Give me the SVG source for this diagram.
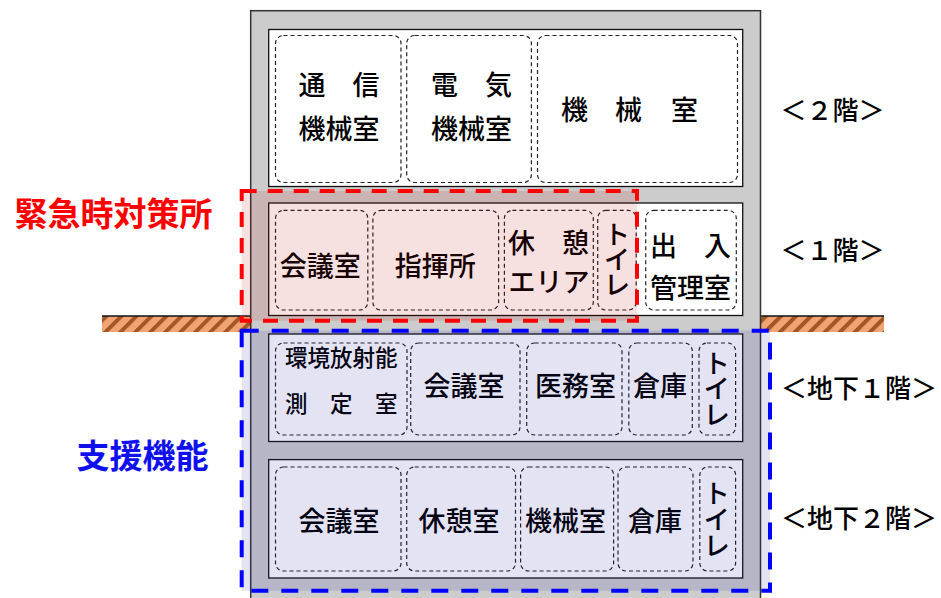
<svg xmlns="http://www.w3.org/2000/svg" width="941" height="598" viewBox="0 0 941 598">
<defs>
<pattern id="soil" patternUnits="userSpaceOnUse" width="10.6" height="10.6" patternTransform="rotate(45)">
<rect width="10.6" height="10.6" fill="#f0a474"/>
<rect width="4" height="10.6" fill="#9a4e1e" opacity="0.9"/>
</pattern>
<style>
.bld{fill:#cccccc;stroke:#333;stroke-width:1.5}
.floor{fill:#ffffff;stroke:#111;stroke-width:1.3}
.room{fill:none;stroke:#222;stroke-width:1.2;stroke-dasharray:4 3}
.t{font-family:"Noto Sans CJK JP","Noto Sans CJK SC",sans-serif;font-size:27px;font-weight:500;fill:#000;text-anchor:middle}
.s{font-size:22.5px}
.v{font-size:26px}
.lab{font-family:"Noto Sans CJK JP","Noto Sans CJK SC",sans-serif;font-size:26px;font-weight:500;fill:#000;text-anchor:middle}
.big{font-family:"Noto Sans CJK JP","Noto Sans CJK SC",sans-serif;font-size:33px;font-weight:bold;text-anchor:middle}
</style>
</defs>
<rect width="941" height="598" fill="#ffffff"/>
<g id="ground">
<rect x="102" y="316" width="149" height="16" fill="url(#soil)"/>
<rect x="761" y="316" width="123" height="16" fill="url(#soil)"/>
<line x1="102" y1="316" x2="251" y2="316" stroke="#111" stroke-width="1.6"/>
<line x1="761" y1="316" x2="884" y2="316" stroke="#111" stroke-width="1.6"/>
</g>
<g id="building">
<rect class="bld" x="250.7" y="10.7" width="509.8" height="600"/>
</g>
<g id="floor-2F">
<rect class="floor" x="268.7" y="29.5" width="474" height="157"/>
<g id="room-2F-tsushin">
<rect class="room" x="275.5" y="35.5" width="125.5" height="147" rx="8"/>
<text class="t" x="339" y="95">通　信</text>
<text class="t" x="339" y="139">機械室</text>
</g>
<g id="room-2F-denki">
<rect class="room" x="406.7" y="35.5" width="124.7" height="147" rx="8"/>
<text class="t" x="471.5" y="95">電　気</text>
<text class="t" x="471.5" y="139">機械室</text>
</g>
<g id="room-2F-kikai">
<rect class="room" x="537.5" y="35.5" width="200" height="147" rx="8"/>
<text class="t" x="574.6 628.6 684.6" y="120">機械室</text>
</g>
</g>
<g id="floor-1F">
<rect class="floor" x="268.7" y="203" width="474" height="112.5"/>
<g id="room-1F-kaigi">
<rect class="room" x="275.5" y="210.4" width="92.3" height="99.6" rx="8"/>
<text class="t" x="320.3" y="276">会議室</text>
</g>
<g id="room-1F-shiki">
<rect class="room" x="372.9" y="210.4" width="125.7" height="99.6" rx="8"/>
<text class="t" x="435.3" y="276">指揮所</text>
</g>
<g id="room-1F-kyukei">
<rect class="room" x="504.4" y="210.4" width="88.9" height="99.6" rx="8"/>
<text class="t" x="548.6" y="253">休　憩</text>
<text class="t" x="549" y="292">エリア</text>
</g>
<g id="room-1F-toilet">
<rect class="room" x="597.7" y="210.4" width="38.5" height="99.6" rx="8"/>
<text class="t v" x="617 617 617" y="244 269 294">トイレ</text>
</g>
<g id="room-1F-deiri">
<rect class="room" x="645.7" y="210.4" width="90.6" height="99.6" rx="8"/>
<text class="t" x="690.4" y="256">出　入</text>
<text class="t" x="690.4" y="298">管理室</text>
</g>
</g>
<g id="floor-B1">
<rect class="floor" x="268.7" y="334" width="474" height="107.5"/>
<g id="room-B1-sokutei">
<rect class="room" x="275.5" y="343" width="131.5" height="92" rx="8"/>
<text class="t s" x="341.3" y="365.5">環境放射能</text>
<text class="t s" x="341.3" y="411.5">測　定　室</text>
</g>
<g id="room-B1-kaigi">
<rect class="room" x="410.7" y="343" width="109.3" height="92" rx="8"/>
<text class="t" x="464" y="396">会議室</text>
</g>
<g id="room-B1-imu">
<rect class="room" x="526.7" y="343" width="95.3" height="92" rx="8"/>
<text class="t" x="575.5" y="396">医務室</text>
</g>
<g id="room-B1-souko">
<rect class="room" x="628.8" y="343" width="63.5" height="92" rx="8"/>
<text class="t" x="660" y="396">倉庫</text>
</g>
<g id="room-B1-toilet">
<rect class="room" x="699" y="343" width="36.6" height="92" rx="8"/>
<text class="t v" x="716.7 716.7 716.7" y="373 398 424">トイレ</text>
</g>
</g>
<g id="floor-B2">
<rect class="floor" x="268.7" y="459.6" width="474" height="118.4"/>
<g id="room-B2-kaigi">
<rect class="room" x="275.5" y="467" width="125.5" height="104" rx="8"/>
<text class="t" x="339" y="531">会議室</text>
</g>
<g id="room-B2-kyukei">
<rect class="room" x="406.7" y="467" width="108.8" height="104" rx="8"/>
<text class="t" x="459" y="531">休憩室</text>
</g>
<g id="room-B2-kikai">
<rect class="room" x="520.6" y="467" width="93" height="104" rx="8"/>
<text class="t" x="565.4" y="531">機械室</text>
</g>
<g id="room-B2-souko">
<rect class="room" x="618" y="467" width="75" height="104" rx="8"/>
<text class="t" x="655" y="531">倉庫</text>
</g>
<g id="room-B2-toilet">
<rect class="room" x="699.8" y="467" width="35.8" height="104" rx="8"/>
<text class="t v" x="716.7 716.7 716.7" y="503 528.6 555">トイレ</text>
</g>
</g>
<g id="zone-emergency">
<rect x="241.7" y="191" width="395.3" height="129.7" fill="#b40000" fill-opacity="0.12"/>
<rect x="241.7" y="191" width="395.3" height="129.7" fill="none" stroke="#ff0000" stroke-width="4" stroke-dasharray="15 11"/>
<text class="big" x="113.5" y="225.5" fill="#ff0000">緊急時対策所</text>
</g>
<g id="zone-support">
<rect x="241.7" y="330.7" width="528.3" height="260" fill="#2828a0" fill-opacity="0.13"/>
<rect x="241.7" y="330.7" width="528.3" height="260" fill="none" stroke="#0000ff" stroke-width="4" stroke-dasharray="17 13"/>
<text class="big" x="142.5" y="467.5" fill="#1010ee">支援機能</text>
</g>
<g id="floor-labels">
<text class="lab" x="832.5" y="120">＜２階＞</text>
<text class="lab" x="832.5" y="260">＜１階＞</text>
<text class="lab" x="859" y="398">＜地下１階＞</text>
<text class="lab" x="859" y="528">＜地下２階＞</text>
</g>
</svg>
